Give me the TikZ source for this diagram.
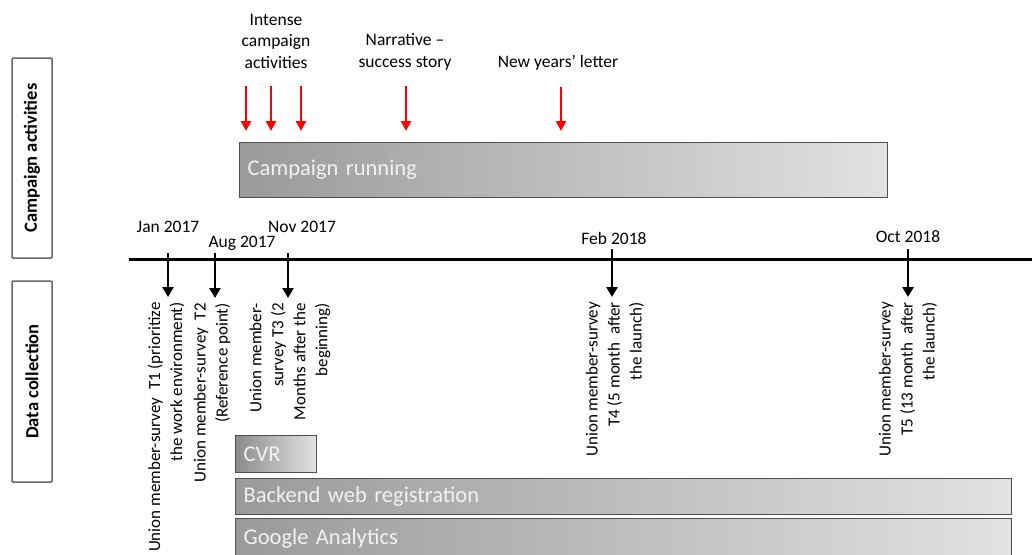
\documentclass[tikz,border=0pt]{standalone}
\usepackage{fontspec}
\setmainfont{Carlito}
\usetikzlibrary{arrows.meta}

\definecolor{barline}{HTML}{505050}
\definecolor{bardark}{HTML}{9A9A9A}
\definecolor{barlight}{HTML}{E2E2E2}

\tikzset{
  lanebox/.style={draw=black!60, line width=1.5pt, fill=white, rounded corners=1pt,
    rotate=90, minimum height=40pt, inner sep=0pt,
    font=\fontsize{18.5}{20}\selectfont\bfseries},
  bar/.style={draw=barline, line width=1.2pt, left color=bardark, right color=barlight,
    anchor=north west, inner sep=8pt, align=left, text=white!95!black,
    font=\fontsize{22.5}{26}\selectfont},
  redarrow/.style={draw=red, line width=2.6pt, -{Triangle[width=10pt,length=10pt]}},
  tickarrow/.style={draw=black, line width=2.8pt, -{Triangle[width=11pt,length=10pt]}},
  datelabel/.style={inner sep=0pt, font=\fontsize{17.5}{21}\selectfont},
  toplabel/.style={inner sep=0pt, align=center, font=\fontsize{17.5}{21.5}\selectfont},
  surveylabel/.style={rotate=90, anchor=east, align=right, inner sep=3pt,
    font=\fontsize{17}{22}\selectfont}
}

\begin{document}
\begin{tikzpicture}[x=1pt, y=-1pt]
   \useasboundingbox (0,0) rectangle (1032,554);

   % lanes on the left
   \node[lanebox, minimum width=200pt] (lanecamp) at (32,158) {Campaign activities};
   \node[lanebox, minimum width=201pt] (lanedata) at (32,381.5) {Data collection};

   % campaign part
   \node[bar, minimum width=648pt, minimum height=55pt, text width=632pt] (run) at (239,142) {Campaign running};

   \node[toplabel] (intense) at (276,41) {Intense\\campaign\\activities};
   \node[toplabel] (narrative) at (405,52) {Narrative --\\success story};
   \node[toplabel] (letter) at (558,63) {New years’ letter};

   \coordinate (r1) at (246,86);
   \coordinate (r2) at (271,86);
   \coordinate (r3) at (301,86);
   \coordinate (r4) at (406,86);
   \coordinate (r5) at (561,87);
   \foreach \r in {r1,r2,r3,r4,r5}
     \draw[redarrow, shorten >=11pt] (\r) -- (\r |- run.north);

   % time line
   \coordinate (tstart) at (129,259);
   \coordinate (tend) at (1032,259);
   \draw[line width=3pt] (tstart) -- (tend);

   \node[datelabel] (jan) at (168,227) {Jan 2017};
   \node[datelabel] (aug) at (242,243) {Aug 2017};
   \node[datelabel] (nov) at (302,227) {Nov 2017};
   \node[datelabel] (feb) at (614,238) {Feb 2018};
   \node[datelabel] (oct) at (908,237) {Oct 2018};

   \coordinate (t1) at (168,253);
   \coordinate (t2) at (215,253);
   \coordinate (t3) at (288,253);
   \coordinate (t4) at (612,249);
   \coordinate (t5) at (908,249);

   \node[surveylabel] (s1) at (166,299) {Union member-survey\ \ T1 (prioritize\\the work environment)};
   \node[surveylabel] (s2) at (212,300) {Union member-survey\ \ T2\\(Reference point)};
   \node[surveylabel] (s3) at (290,300) {Union member-\\survey T3 (2\\Months after the\\beginning)};
   \node[surveylabel] (s4) at (615,299) {Union member-survey\\T4 (5 month\ \ after\\the launch)};
   \node[surveylabel] (s5) at (908,299) {Union member-survey\\T5 (13 month\ \ after\\the launch)};

   \draw[tickarrow, shorten >=2pt] (t1) -- (t1 |- s1.east);
   \draw[tickarrow, shorten >=2pt] (t2) -- (t2 |- s2.east);
   \draw[tickarrow, shorten >=2pt] (t3) -- (t3 |- s3.east);
   \draw[tickarrow, shorten >=2pt] (t4) -- (t4 |- s4.east);
   \draw[tickarrow, shorten >=2pt] (t5) -- (t5 |- s5.east);

   % data sources
   \node[bar, left color=black!45, minimum width=81pt, minimum height=37pt, text width=65pt] (cvr) at (235,435) {CVR};
   \node[bar, minimum width=776pt, minimum height=36pt, text width=760pt] (backend) at (235,478) {Backend web registration};
   \node[bar, minimum width=776pt, minimum height=40pt, text width=760pt] (google) at (235,518) {Google Analytics};
\end{tikzpicture}
\end{document}
